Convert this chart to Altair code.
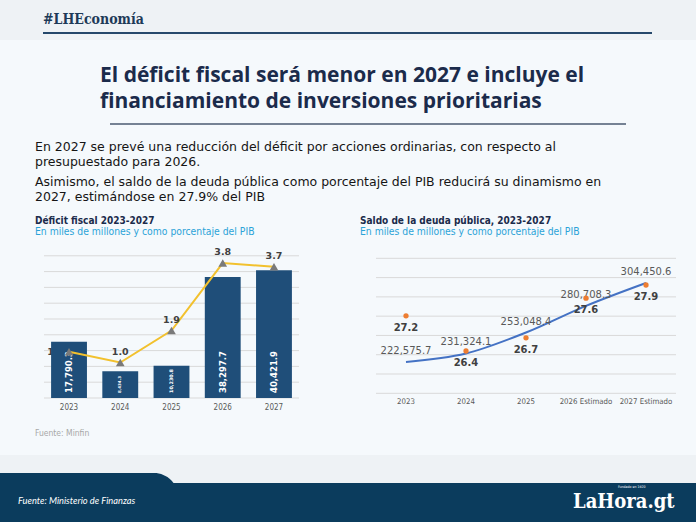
import altair as alt
import pandas as pd

# ---- data -------------------------------------------------------------
years = ["2023", "2024", "2025", "2026", "2027"]
deficit = [17790.3, 8434.3, 10230.8, 38297.7, 40421.9]          # miles de millones
deficit_pct = [1.3, 1.0, 1.9, 3.8, 3.7]                          # % del PIB

debt_years = ["2023", "2024", "2025", "2026 Estimado", "2027 Estimado"]
debt = [222575.7, 231324.1, 253048.4, 280708.3, 304450.6]       # miles de millones
debt_pct = [27.2, 26.4, 26.7, 27.6, 27.9]                        # % del PIB

deficit_grid = [0, 5000, 10000, 15000, 20000, 25000, 30000, 35000, 40000, 45000]
debt_grid = [190000, 210000, 230000, 250000, 270000, 290000, 310000, 330000]

left = pd.DataFrame({"year": years, "deficit": deficit, "pct": deficit_pct})
right = pd.DataFrame({"year": debt_years, "debt": debt, "pct": debt_pct})
left_grid = pd.DataFrame({"v": deficit_grid})
right_grid = pd.DataFrame({"v": debt_grid})
one = pd.DataFrame({"k": [0]})

# ---- palette / fonts --------------------------------------------------
NAVY = "#1b2b4b"
BAR = "#1f4e79"
GRID = "#d9d9d9"
SANS = "DejaVu Sans"
COND = "DejaVu Sans Condensed"

# ---- scales (each panel lives in its own pixel range) -----------------
x_left_band = alt.Scale(domain=years, range=[43.4, 299.6], paddingInner=0.3, paddingOuter=0.15)
x_left_pt = alt.Scale(type="point", domain=years, range=[43.4, 299.6], padding=0.5)
y_bar = alt.Scale(domain=[0, 45000], range=[398, 255.8], nice=False, zero=True)
y_pct_l = alt.Scale(domain=[0, 4], range=[398, 256], nice=False, zero=True)

x_right_pt = alt.Scale(type="point", domain=debt_years, range=[376, 676], padding=0.5)
y_debt = alt.Scale(domain=[190000, 330000], range=[393.3, 258.3], nice=False, zero=False)
y_pct_r = alt.Scale(domain=[26, 28], range=[368.6, 280.6], nice=False, zero=False)


def box(x, x2, y, y2, color, **kw):
    return alt.Chart(one).mark_rect(color=color, **kw).encode(
        x=alt.value(x), x2=alt.value(x2), y=alt.value(y), y2=alt.value(y2))


def hline(x, x2, y, color, width):
    return alt.Chart(one).mark_rule(color=color, strokeWidth=width).encode(
        x=alt.value(x), x2=alt.value(x2), y=alt.value(y))


def label(s, x, y, size, color, font=SANS, weight="normal", style="normal", align="left"):
    return alt.Chart(one).mark_text(
        text=s, font=font, fontSize=size, fontWeight=weight, fontStyle=style,
        color=color, align=align, baseline="middle",
    ).encode(x=alt.value(x), y=alt.value(y))


# ---- page furniture ---------------------------------------------------
page = [
    box(0, 696, 0, 40, "#eef2f5"),
    box(0, 696, 455, 522, "#eef2f5"),
    box(-20, 178, 473, 540, "#0b3c5d", cornerRadiusTopRight=24),
    box(0, 696, 483, 522, "#0b3c5d"),
    label("#LHEconomía", 43, 20, 14, "#1d3a58", font="DejaVu Serif Condensed", weight="bold"),
    hline(43, 652, 33, "#25486b", 2),
    label("El déficit fiscal será menor en 2027 e incluye el", 100, 76, 21, NAVY, font="Open Sans", weight="bold"),
    label("financiamiento de inversiones prioritarias", 100, 102, 21, NAVY, font="Open Sans", weight="bold"),
    hline(110, 626, 124, "#4a5a72", 1.5),
    label("En 2027 se prevé una reducción del déficit por acciones ordinarias, con respecto al", 35, 147, 12.5, "#151515"),
    label("presupuestado para 2026.", 35, 162, 12.5, "#151515"),
    label("Asimismo, el saldo de la deuda pública como porcentaje del PIB reducirá su dinamismo en", 35, 182, 12.5, "#151515"),
    label("2027, estimándose en 27.9% del PIB", 35, 197, 12.5, "#151515"),
    label("Déficit fiscal 2023-2027", 35, 221, 10, NAVY, font=COND, weight="bold"),
    label("En miles de millones y como porcentaje del PIB", 35, 232, 10.3, "#2ba3d8", font=COND),
    label("Saldo de la deuda pública, 2023-2027", 360, 221, 10, NAVY, font=COND, weight="bold"),
    label("En miles de millones y como porcentaje del PIB", 360, 232, 10.3, "#2ba3d8", font=COND),
    label("Fuente: Minfin", 35, 433, 8.5, "#a8a8a8", font=COND),
    label("Fuente: Ministerio de Finanzas", 18, 501, 9.3, "white", font="Lato", style="italic"),
    label("LaHora.gt", 573, 502, 20, "white", font="DejaVu Serif Condensed", weight="bold"),
    label("Fundado en 1920", 618, 487, 3.5, "white", font=COND),
]

# ---- left panel: déficit fiscal --------------------------------------
lbase = alt.Chart(left)

l_grid = alt.Chart(left_grid).mark_rule(color=GRID, strokeWidth=1).encode(
    y=alt.Y("v:Q", scale=y_bar, axis=None), x=alt.value(44), x2=alt.value(299))

l_first_pct = lbase.transform_filter(alt.datum.year == "2023").mark_text(
    font=SANS, fontSize=9.5, fontWeight="bold", color="#404040", align="right", dx=-5,
).encode(x=alt.X("year:N", scale=x_left_pt, axis=None),
         y=alt.Y("pct:Q", scale=y_pct_l, axis=None),
         text=alt.Text("pct:Q", format=".1f"))

l_bars = lbase.mark_bar(color=BAR).encode(
    x=alt.X("year:N", scale=x_left_band, axis=None),
    y=alt.Y("deficit:Q", scale=y_bar, axis=None))

l_bar_text = lbase.transform_calculate(
    base="0", fs="min(8.5, datum.deficit / 2100)"
).mark_text(
    font=SANS, fontWeight="bold", color="white", angle=270, align="left",
    baseline="middle", yOffset=-5,
).encode(x=alt.X("year:N", scale=x_left_pt, axis=None),
         y=alt.Y("base:Q", scale=y_bar, axis=None),
         size=alt.Size("fs:Q", scale=None, legend=None),
         text=alt.Text("deficit:Q", format=",.1f"))

l_line = lbase.mark_line(color="#f2c12e", strokeWidth=2).encode(
    x=alt.X("year:N", scale=x_left_pt, axis=None),
    y=alt.Y("pct:Q", scale=y_pct_l, axis=None))

l_tri = lbase.mark_point(shape="triangle-up", filled=True, color="#7a7a7a", size=75, opacity=1).encode(
    x=alt.X("year:N", scale=x_left_pt, axis=None),
    y=alt.Y("pct:Q", scale=y_pct_l, axis=None))

l_pct = lbase.transform_filter(alt.datum.year != "2023").mark_text(
    font=SANS, fontSize=9.5, fontWeight="bold", color="#404040", dy=-11,
).encode(x=alt.X("year:N", scale=x_left_pt, axis=None),
         y=alt.Y("pct:Q", scale=y_pct_l, axis=None),
         text=alt.Text("pct:Q", format=".1f"))

l_xlab = lbase.mark_text(font=COND, fontSize=8, color="#595959").encode(
    x=alt.X("year:N", scale=x_left_pt, axis=None), y=alt.value(408), text="year:N")

# ---- right panel: saldo de la deuda ----------------------------------
rbase = alt.Chart(right)

r_grid = alt.Chart(right_grid).mark_rule(color=GRID, strokeWidth=1).encode(
    y=alt.Y("v:Q", scale=y_debt, axis=None), x=alt.value(376), x2=alt.value(676))

r_line = rbase.mark_line(color="#4472c4", strokeWidth=2, interpolate="monotone").encode(
    x=alt.X("year:N", scale=x_right_pt, axis=None),
    y=alt.Y("debt:Q", scale=y_debt, axis=None))

r_debt_lab = rbase.mark_text(font=SANS, fontSize=10, color="#595959", dy=-11).encode(
    x=alt.X("year:N", scale=x_right_pt, axis=None),
    y=alt.Y("debt:Q", scale=y_debt, axis=None),
    text=alt.Text("debt:Q", format=",.1f"))

r_dots = rbase.mark_circle(color="#ed7d31", size=28, opacity=1).encode(
    x=alt.X("year:N", scale=x_right_pt, axis=None),
    y=alt.Y("pct:Q", scale=y_pct_r, axis=None))

r_pct_lab = rbase.mark_text(font=SANS, fontSize=10, fontWeight="bold", color="#404040", dy=12).encode(
    x=alt.X("year:N", scale=x_right_pt, axis=None),
    y=alt.Y("pct:Q", scale=y_pct_r, axis=None),
    text=alt.Text("pct:Q", format=".1f"))

r_xlab = rbase.mark_text(font=COND, fontSize=7.8, color="#595959").encode(
    x=alt.X("year:N", scale=x_right_pt, axis=None), y=alt.value(402), text="year:N")

chart = alt.layer(
    *page,
    l_grid, l_first_pct, l_bars, l_bar_text, l_line, l_tri, l_pct, l_xlab,
    r_grid, r_line, r_debt_lab, r_dots, r_pct_lab, r_xlab,
).resolve_scale(
    x="independent", y="independent", size="independent"
).properties(
    width=696, height=522, padding=0, background="#f5f9fc",
    autosize=alt.AutoSizeParams(type="none"),
).configure_view(strokeWidth=0)

chart.save("out.html", embed_options={"renderer": "svg", "actions": False})
